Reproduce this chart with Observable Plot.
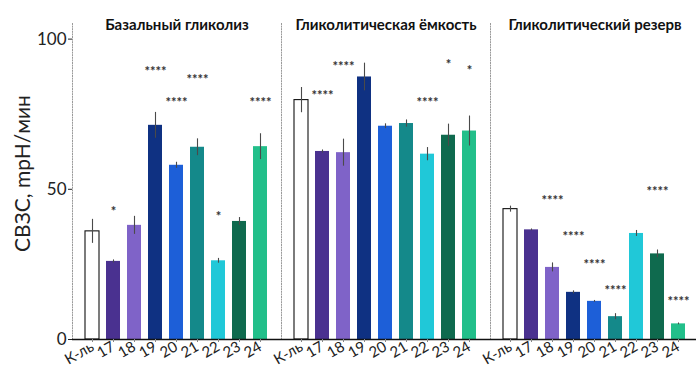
<!DOCTYPE html>
<html>
<head>
<meta charset="utf-8">
<script src="https://cdn.jsdelivr.net/npm/d3@7"></script>
<script src="https://cdn.jsdelivr.net/npm/@observablehq/plot@0.6"></script>
<style>
  html, body { margin: 0; padding: 0; background: #fff; overflow: hidden; }
  #chart svg { display: block; }
</style>
</head>
<body>
<div id="chart"></div>
<script>
const groups = ["К-ль", "17", "18", "19", "20", "21", "22", "23", "24"];
const panels = ["Базальный гликолиз", "Гликолитическая ёмкость", "Гликолитический резерв"];
const colors = ["#ffffff", "#4a3190", "#7f63c8", "#0f3182", "#1d5fd8", "#14898a", "#20c8d8", "#0f6a4e", "#22bf8a"];

const basal       = [36, 26, 38, 71.3, 58, 64, 26.2, 39.3, 64.2];
const basalErr    = [4, 0.5, 3, 4.3, 1, 2.8, 0.8, 1.3, 4.3];
const capacity    = [79.7, 62.6, 62.2, 87.4, 71, 71.9, 61.7, 68, 69.4];
const capacityErr = [4.2, 0.5, 4.5, 4.6, 0.8, 1.2, 2.2, 3.7, 5];
const reserve     = [43.4, 36.5, 24, 15.7, 12.7, 7.6, 35.3, 28.5, 5.2];
const reserveErr  = [1, 0.3, 1.5, 0.5, 0.3, 1, 1, 1.3, 0.3];

const basalStars    = ["", "*", "", "****", "****", "****", "*", "", "****"];
const basalStarY    = [null, 44, null, 90.5, 80, 87.7, 42.3, null, 80.2];
const capacityStars = ["", "****", "****", "", "", "", "****", "*", "*"];
const capacityStarY = [null, 82.5, 92, null, null, null, 80.2, 92.7, 90.7];
const reserveStars  = ["", "", "****", "****", "****", "****", "", "****", "****"];
const reserveStarY  = [null, null, 47.6, 35.4, 26.2, 17.4, null, 50.6, 14];

const yTicks = [0, 50, 100];
const yLabel = "СВЗС, mpH/мин";

const series = [
  [basal, basalErr, basalStars, basalStarY],
  [capacity, capacityErr, capacityStars, capacityStarY],
  [reserve, reserveErr, reserveStars, reserveStarY]
];
const rows = [];
const stars = [];
series.forEach(([vals, errs, st, sy], pi) => {
  groups.forEach((g, gi) => {
    rows.push({panel: panels[pi], group: g, value: vals[gi], err: errs[gi]});
    if (st[gi]) stars.push({panel: panels[pi], group: g, label: st[gi], y: sy[gi]});
  });
});

const FONT = "Lato, 'Open Sans', sans-serif";

const chart = Plot.plot({
  width: 696,
  height: 380,
  marginLeft: 71,
  marginRight: 0,
  marginTop: 23,
  marginBottom: 41,
  style: {fontFamily: FONT, background: "#fff"},
  fx: {domain: panels, padding: 0, range: [71, 699.5], axis: null, label: null},
  x: {domain: groups, paddingInner: 0.33, paddingOuter: 0.47, axis: null, label: null},
  y: {domain: [0, 105.2], axis: null, label: null},
  color: {domain: groups, range: colors},
  marks: [
    Plot.frame({anchor: "left", stroke: "#9a9a9a", strokeDasharray: "1,1.6", strokeWidth: 1}),
    Plot.barY(rows, {
      fx: "panel", x: "group", y: "value", fill: "group",
      stroke: d => d.group === groups[0] ? "#111" : "none", strokeWidth: 1.1
    }),
    Plot.ruleX(rows, {
      fx: "panel", x: "group", y1: d => d.value - d.err, y2: d => d.value + d.err,
      stroke: "#4a4a4a", strokeWidth: 1.1
    }),
    Plot.text(stars, {
      fx: "panel", x: "group", y: "y", text: "label",
      fontSize: 13, fill: "#333", fontWeight: "bold", dy: 4
    }),
    Plot.text(panels, {
      fx: d => d, text: d => d, frameAnchor: "top", lineAnchor: "middle", dy: 2,
      fontSize: 15, fontWeight: "bold", fill: "#111"
    }),
    Plot.ruleY([0], {stroke: "#111", strokeWidth: 1.3}),
    Plot.axisX({tickSize: 3, stroke: "#888", text: null, label: null}),
    Plot.axisX({tickSize: 0, tickPadding: 6, tickRotate: -30, fontSize: 15, fill: "#222", label: null}),
    Plot.axisY({ticks: yTicks, line: true, tickSize: 4, tickPadding: 2, fontSize: 17, fill: "#222", stroke: "#222", label: null}),
    Plot.text([yLabel], {
      fx: () => panels[0], text: d => d, frameAnchor: "left", textAnchor: "middle", lineAnchor: "middle",
      rotate: -90, dx: -49, dy: -8, fontSize: 21, fill: "#222"
    })
  ]
});
document.getElementById("chart").appendChild(chart);
</script>
</body>
</html>
